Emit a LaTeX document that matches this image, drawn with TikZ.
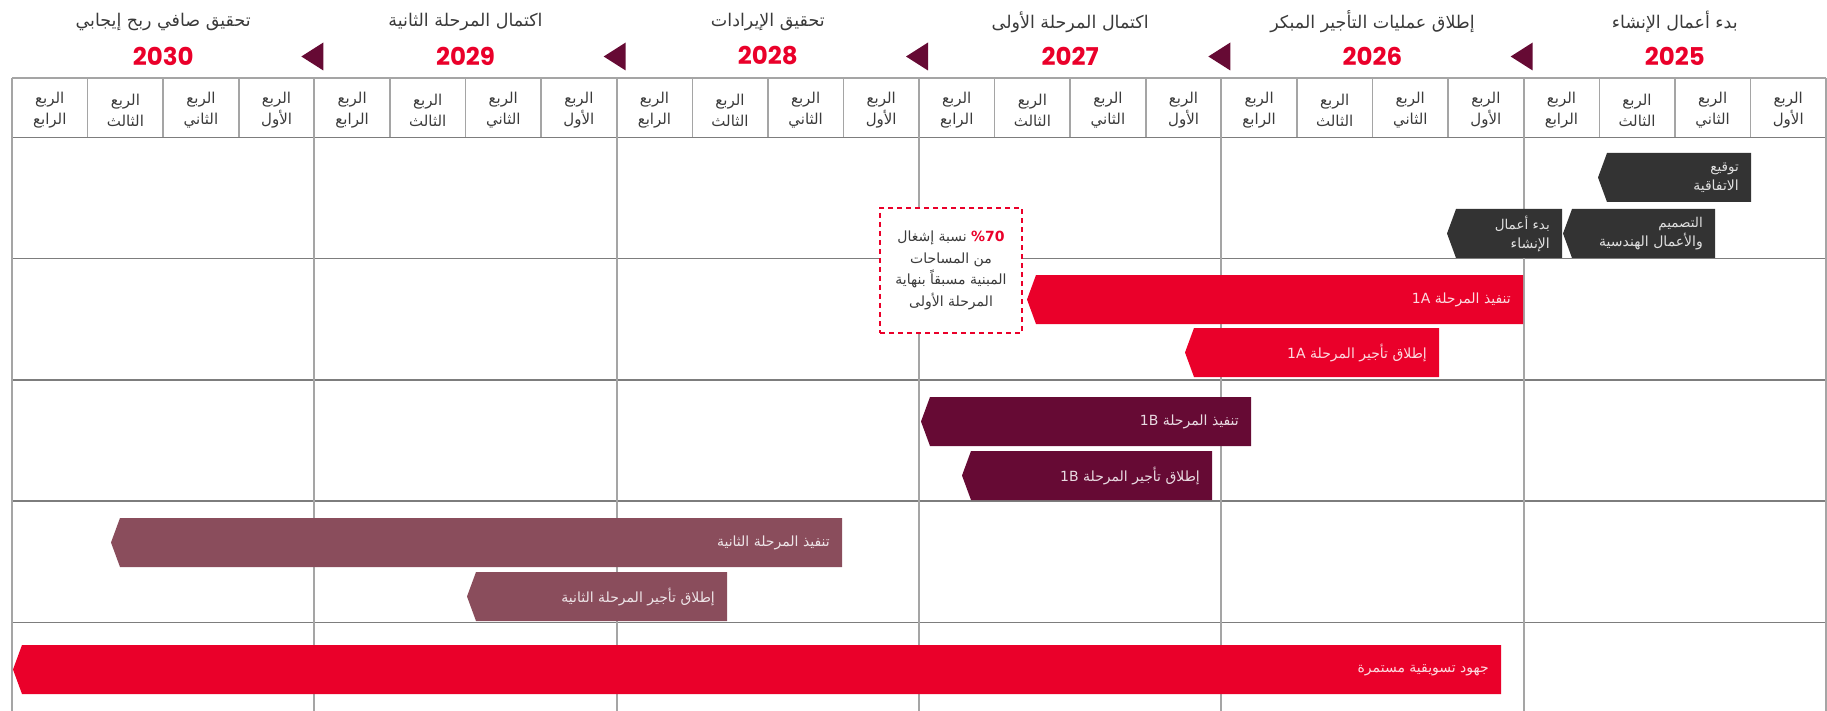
\documentclass[tikz,border=0pt]{standalone}
\usepackage{fontspec}
\newfontfamily\arabicfont[Script=Arabic]{DejaVu Sans}
\newfontfamily\yearfont{Poppins}
\TeXXeTstate=1
\definecolor{brandred}{RGB}{234,0,42}
\definecolor{brandmaroon}{RGB}{102,10,52}
\definecolor{brandmauve}{RGB}{138,77,92}
\definecolor{charcoal}{RGB}{51,51,51}
\definecolor{gridgray}{RGB}{165,165,165}
\definecolor{rowgray}{RGB}{125,125,125}
\definecolor{textgray}{RGB}{58,58,58}
\newcommand\artext[1]{\beginR #1\endR}
\newcommand\ganttbar[6]{%
    \fill[#5] (#2,#4+24.5) -- (#2+9,#4) -- (#3,#4) -- (#3,#4+49) -- (#2+9,#4+49) -- cycle;
    \node[bartext, text=white!85!#5] (#1) at (#3-12,#4+25) {#6};
}
\newcommand\smallbar{\fontsize{13.5}{19}\selectfont}
\tikzset{
    quarter/.style={font=\arabicfont\fontsize{15}{21}\selectfont, text=textgray, align=center},
    milestone/.style={font=\arabicfont\fontsize{17.5}{20}\selectfont, text=textgray},
    yearlabel/.style={font=\yearfont\bfseries\fontsize{24.5}{25}\selectfont, text=brandred},
    bartext/.style={font=\arabicfont\fontsize{14}{19}\selectfont, align=right, anchor=east, inner sep=0pt},
    headgrid/.style={draw=gridgray, line width=1.5pt},
    rowline/.style={draw=rowgray, line width=1.5pt},
    yearline/.style={draw=gridgray, line width=2pt},
    notebox/.style={draw=brandred, fill=white, dashed, dash pattern=on 5pt off 4pt, line width=1.5pt,
        minimum width=142pt, minimum height=125pt, align=center,
        font=\arabicfont\fontsize{14}{21.5}\selectfont, text=textgray}
}
\begin{document}
\begin{tikzpicture}[x=1pt, y=-1pt]
    \useasboundingbox (0,0) rectangle (1827,711);
    \foreach \i in {1,...,23}
        \draw[headgrid] ({1826-\i*75.583},78) -- ++(0,59.5);
    \draw[headgrid] (12,78) -- (1826,78);
    \foreach \y in {137.5,258.7,379.9,501.1,622.3}
        \draw[rowline] (12,\y) -- (1826,\y);
    \foreach \k in {0,...,6}
        \draw[yearline] ({1826-\k*302.33},78) -- ({1826-\k*302.33},711);
    \foreach \k in {0,...,5} {
        \foreach \q/\qname in {0/الأول,1/الثاني,2/الثالث,3/الرابع}
            \node[quarter] (q\k\q) at ({1826-(4*\k+\q+0.5)*75.583},110) {\artext{الربع}\\\artext{\qname}};
    }
    \foreach \k/\yr/\ms in {0/2025/{بدء أعمال الإنشاء},1/2026/{إطلاق عمليات التأجير المبكر},
        2/2027/{اكتمال المرحلة الأولى},3/2028/{تحقيق الإيرادات},
        4/2029/{اكتمال المرحلة الثانية},5/2030/{تحقيق صافي ربح إيجابي}} {
        \node[milestone] (ms\yr) at ({1826-(\k+0.5)*302.33},22) {\artext{\ms}};
        \node[yearlabel] (yr\yr) at ({1826-(\k+0.5)*302.33},56) {\yr};
    }
    \foreach \k in {1,...,5}
        \fill[brandmaroon] ({1826-\k*302.33+9},42.5) -- ++(0,28) -- ++(-22,-14) -- cycle;
    \ganttbar{sign}{1598}{1751}{153}{charcoal}{\smallbar\artext{توقيع}\\\artext{الاتفاقية}}
    \ganttbar{design}{1563}{1715}{209}{charcoal}{\smallbar\artext{التصميم}\\\artext{والأعمال الهندسية}}
    \ganttbar{build}{1447}{1562}{209}{charcoal}{\smallbar\artext{بدء أعمال}\\\artext{الإنشاء}}
    \ganttbar{deliverA}{1027}{1523}{275}{brandred}{\artext{تنفيذ المرحلة 1A}}
    \ganttbar{leaseA}{1185}{1439}{328}{brandred}{\artext{إطلاق تأجير المرحلة 1A}}
    \ganttbar{deliverB}{921}{1251}{397}{brandmaroon}{\artext{تنفيذ المرحلة 1B}}
    \ganttbar{leaseB}{962}{1212}{451}{brandmaroon}{\artext{إطلاق تأجير المرحلة 1B}}
    \ganttbar{deliverII}{111}{842}{518}{brandmauve}{\artext{تنفيذ المرحلة الثانية}}
    \ganttbar{leaseII}{467}{727}{572}{brandmauve}{\artext{إطلاق تأجير المرحلة الثانية}}
    \ganttbar{marketing}{13}{1501}{645}{brandred}{\artext{جهود تسويقية مستمرة}}
    \node[notebox] (occupancy) at (951,270.5) {\artext{نسبة إشغال} {\color{brandred}\bfseries\%70}\\
        \artext{من المساحات}\\\artext{المبنية مسبقاً بنهاية}\\\artext{المرحلة الأولى}};
\end{tikzpicture}
\end{document}
